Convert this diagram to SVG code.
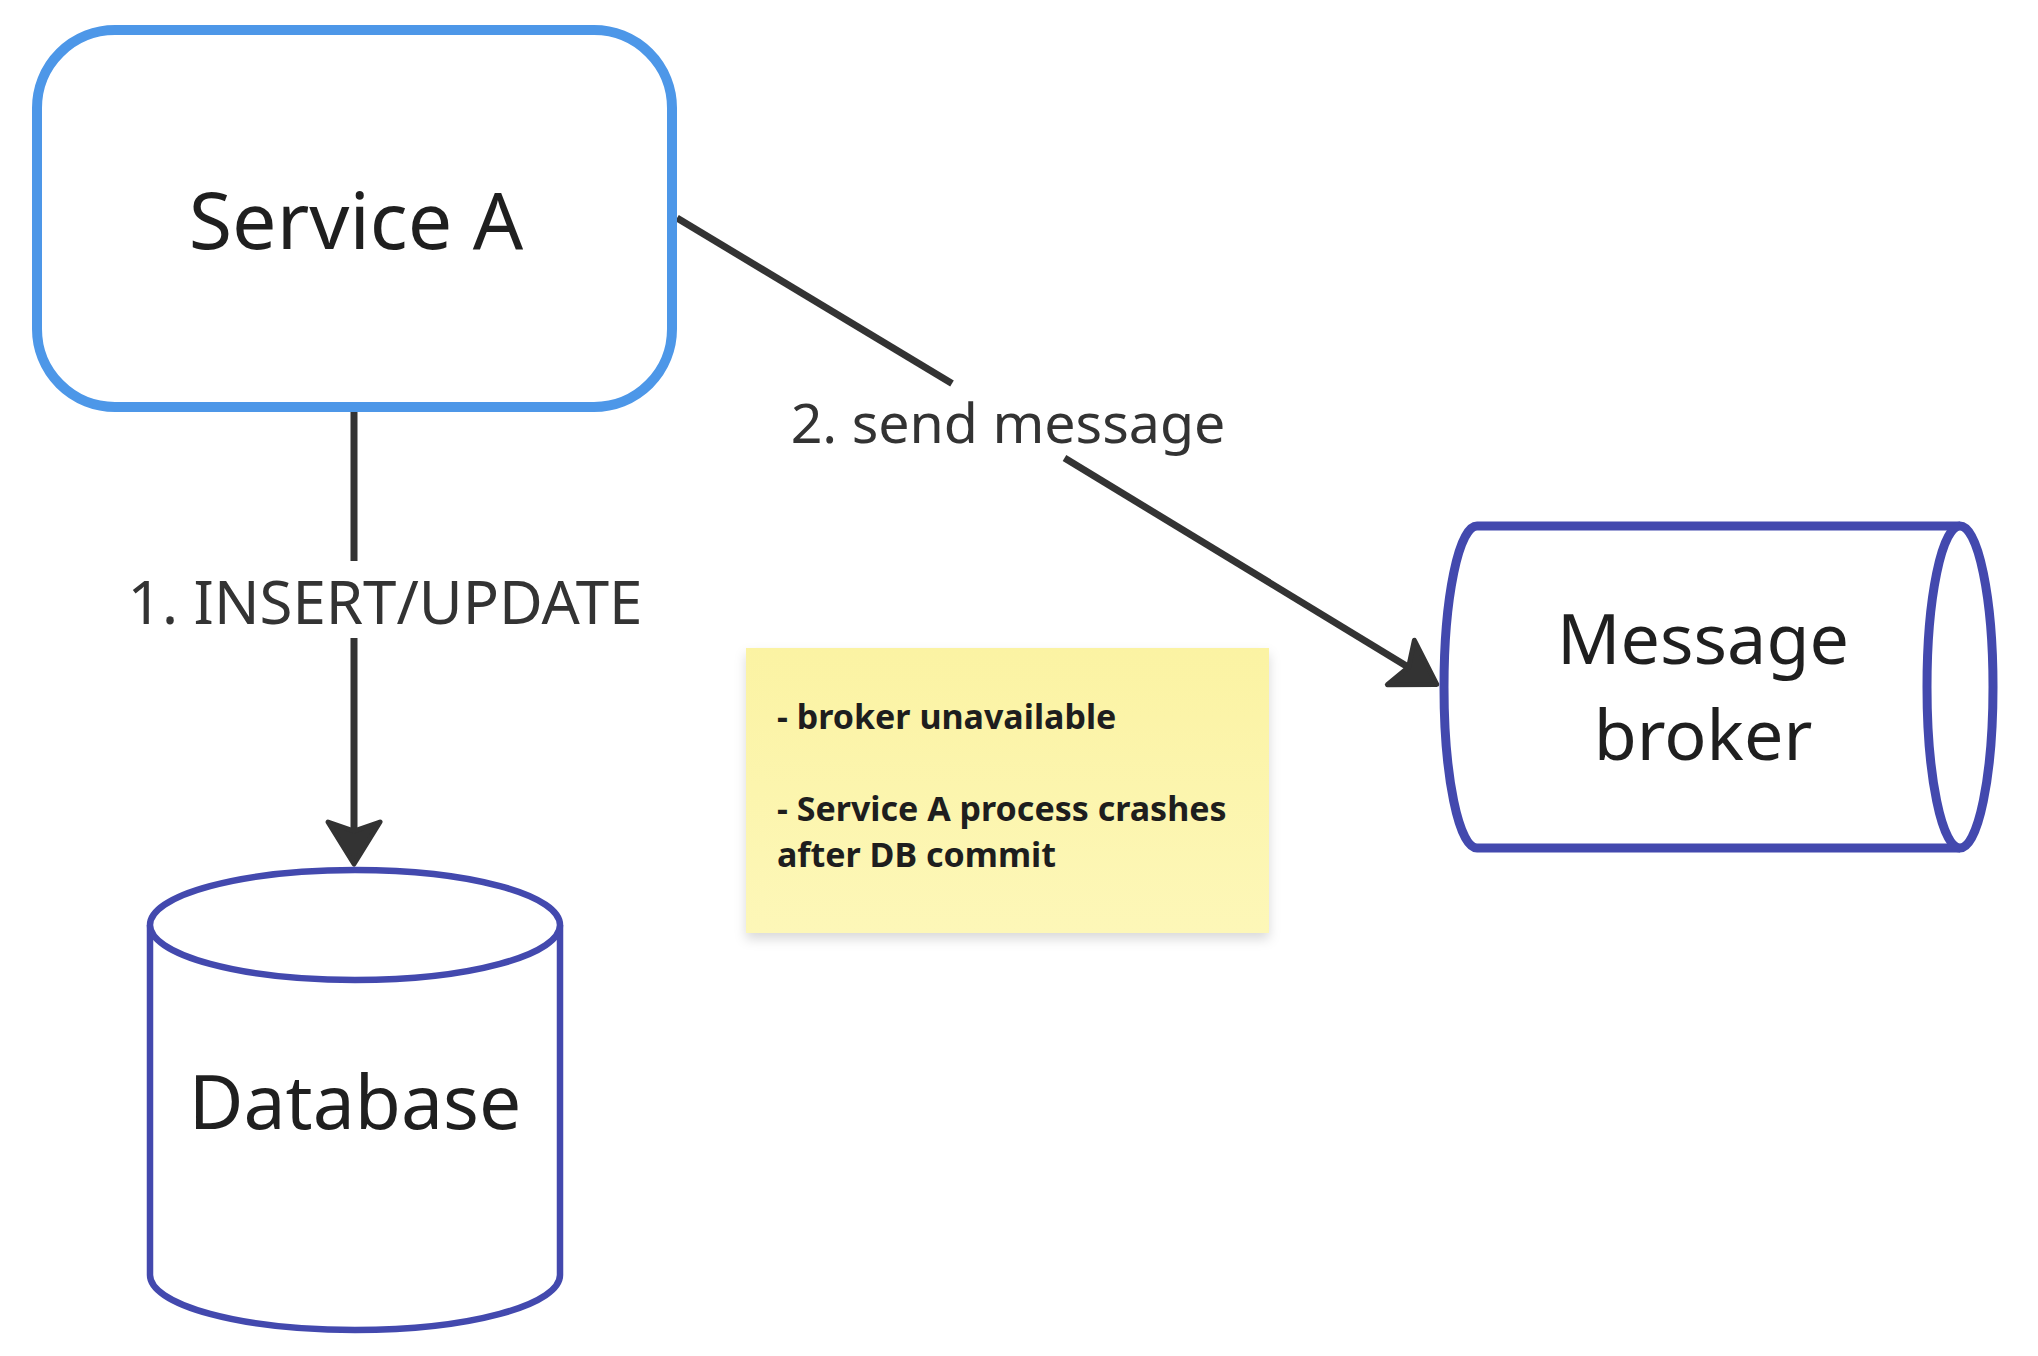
<svg xmlns="http://www.w3.org/2000/svg" width="2038" height="1356" viewBox="0 0 2038 1356">
  <defs>
    <style>
      .node-text { font-family: "Noto Sans", "Open Sans", "Liberation Sans", sans-serif; fill: #1f1f1f; text-anchor: middle; }
      .edge-label { font-family: "Noto Sans", "Open Sans", "Liberation Sans", sans-serif; fill: #333333; text-anchor: middle; }
      .note-text { font-family: "Noto Sans", "Open Sans", "Liberation Sans", sans-serif; font-weight: bold; fill: #1e1e1e; font-size: 34px; }
      .edge { fill: none; stroke: #333333; stroke-width: 7; }
      .store { fill: #ffffff; stroke: #4349ae; }
    </style>
    <marker id="arrow" markerUnits="userSpaceOnUse" markerWidth="80" markerHeight="80" refX="0" refY="0" orient="auto" overflow="visible">
      <path d="M25,0 L-17,-26 L-8,0 L-17,26 Z" fill="#333333" stroke="#333333" stroke-width="5" stroke-linejoin="round"/>
    </marker>
    <linearGradient id="noteFill" x1="0" y1="0" x2="0" y2="1">
      <stop offset="0" stop-color="#fbf3a3"/>
      <stop offset="1" stop-color="#fdf7b8"/>
    </linearGradient>
    <filter id="noteShadow" x="-10%" y="-10%" width="120%" height="130%">
      <feDropShadow dx="0" dy="6" stdDeviation="6" flood-color="#000000" flood-opacity="0.15"/>
    </filter>
  </defs>

  <rect x="0" y="0" width="2038" height="1356" fill="#ffffff"/>

  <g id="connectors">
    <path class="edge" d="M354,412 L354,561"/>
    <path class="edge" d="M354,638 L354,839" marker-end="url(#arrow)"/>
    <text class="edge-label" x="385" y="624" font-size="60">1. INSERT/UPDATE</text>
    <path class="edge" d="M677,218 L952,383.5"/>
    <path class="edge" d="M1064.5,458 L1415.4,671.4" marker-end="url(#arrow)"/>
    <text class="edge-label" x="1008" y="443" font-size="55.5">2. send message</text>
  </g>

  <g id="service-a">
    <rect x="37" y="30" width="635" height="377" rx="78" ry="78" fill="#ffffff" stroke="#4d97e8" stroke-width="10"/>
    <text class="node-text" x="356" y="249" font-size="79">Service A</text>
  </g>

  <g id="database">
    <path class="store" stroke-width="6.5" d="M150,925 L150,1275 A205,55 0 0 0 560,1275 L560,925"/>
    <ellipse class="store" stroke-width="6.5" cx="355" cy="925" rx="205" ry="55"/>
    <text class="node-text" x="355" y="1129" font-size="75">Database</text>
  </g>

  <g id="message-broker">
    <path class="store" stroke-width="9" d="M1477,526 L1960,526 A33,161 0 0 1 1960,848 L1477,848 A33,161 0 0 1 1477,526 Z"/>
    <path class="store" stroke-width="9" fill="none" d="M1960,526 A33,161 0 0 0 1960,848"/>
    <text class="node-text" x="1703" y="664" font-size="70">Message</text>
    <text class="node-text" x="1703" y="760" font-size="70">broker</text>
  </g>

  <g id="note">
    <rect x="746" y="648" width="523" height="285" fill="url(#noteFill)" filter="url(#noteShadow)"/>
    <text class="note-text" x="777" y="729">- broker unavailable</text>
    <text class="note-text" x="777" y="821">- Service A process crashes</text>
    <text class="note-text" x="777" y="867">after DB commit</text>
  </g>
</svg>
